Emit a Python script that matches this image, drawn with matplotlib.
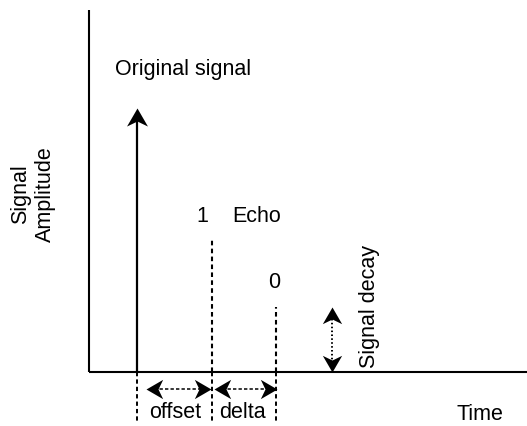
import matplotlib
matplotlib.use("Agg")
import matplotlib.pyplot as plt
import numpy as np
from matplotlib.path import Path

plt.rcParams['font.family'] = ['Liberation Sans', 'DejaVu Sans']

# ---- data (arbitrary units: time, amplitude) ----
time_axis = [0, 438]
amplitude_axis = [0, 362]
pulse_times = [48, 123, 187]          # original, echo "1", echo "0"
pulse_amplitudes = [264, 132, 65]
pulse_labels = ["Original signal", "1", "0"]
below_axis_depth = -50
gap_arrow_level = -17
gap_labels = ["offset", "delta"]
decay_time = 243
decay_range = [65, 0]

FS = 15.5
C = "black"

fig = plt.figure(figsize=(5.27, 4.26), dpi=100)
ax = fig.add_axes([0, 0, 1, 1])
ax.set_xlim(-89, 438)
ax.set_ylim(-54, 372)
ax.axis("off")

# stealth arrowhead marker (tip at origin, pointing up)
base = np.array([(0, 0), (-0.58, -1.0), (0, -0.72), (0.58, -1.0), (0, 0)])
codes = [Path.MOVETO, Path.LINETO, Path.LINETO, Path.LINETO, Path.CLOSEPOLY]

def head(direction):
    ang = {"up": 0, "left": 90, "down": 180, "right": -90}[direction]
    t = np.deg2rad(ang)
    R = np.array([[np.cos(t), -np.sin(t)], [np.sin(t), np.cos(t)]])
    return Path(base @ R.T, codes)

def draw_head(x, y, direction, ms=26):
    ax.plot([x], [y], marker=head(direction), ms=ms, color=C, mec=C, mew=0, ls="none", zorder=5)

# axes lines
ax.plot([time_axis[0], time_axis[0]], amplitude_axis, color=C, lw=1.5, solid_capstyle="butt")
ax.plot(time_axis, [0, 0], color=C, lw=1.5, solid_capstyle="butt")

# original signal arrow
ax.plot([pulse_times[0]] * 2, [0, pulse_amplitudes[0] - 8], color=C, lw=1.6)
draw_head(pulse_times[0], pulse_amplitudes[0], "up")

# echoes (dashed)
for t, a in zip(pulse_times[1:], pulse_amplitudes[1:]):
    ax.plot([t, t], [0, a], color=C, lw=1.5, ls=(0, (2.2, 1.6)))

# dashed marks below axis
for t in pulse_times:
    ax.plot([t, t], [0, below_axis_depth], color=C, lw=1.4, ls=(0, (2.2, 1.6)))

# gap arrows (offset, delta)
gap_ends = [(pulse_times[0] + 9, pulse_times[1] - 1), (pulse_times[1] + 2, pulse_times[2] + 1)]
for (x0, x1) in gap_ends:
    ax.plot([x0 + 8, x1 - 8], [gap_arrow_level] * 2, color=C, lw=1.1, ls=(0, (2.2, 1.4)))
    draw_head(x0, gap_arrow_level, "left", ms=24)
    draw_head(x1, gap_arrow_level, "right", ms=24)

# signal decay arrow (dotted)
ax.plot([decay_time] * 2, [decay_range[0] - 8, decay_range[1] + 8], color=C, lw=1.4, ls=(0, (0.8, 1.2)))
draw_head(decay_time, decay_range[0], "up", ms=24)
draw_head(decay_time, decay_range[1], "down", ms=24)

# texts
ax.text(94, 302, pulse_labels[0], fontsize=FS, ha="center", va="center")
ax.text(113, 155, pulse_labels[1], fontsize=FS, ha="center", va="center")
ax.text(168, 155, "Echo", fontsize=FS, ha="center", va="center")
ax.text(185, 89, pulse_labels[2], fontsize=FS, ha="center", va="center")
ax.text(86, -40, gap_labels[0], fontsize=FS, ha="center", va="center")
ax.text(153, -40, gap_labels[1], fontsize=FS, ha="center", va="center")
ax.text(391, -42, "Time", fontsize=FS, ha="center", va="center")
ax.text(281, 4, "Signal decay", fontsize=FS, ha="center", va="bottom", rotation=90)
ax.text(-56, 178, "Signal\nAmplitude", fontsize=FS, ha="center", va="center",
        rotation=90, multialignment="center", linespacing=1.3)

fig.savefig("out.png", dpi=100)
